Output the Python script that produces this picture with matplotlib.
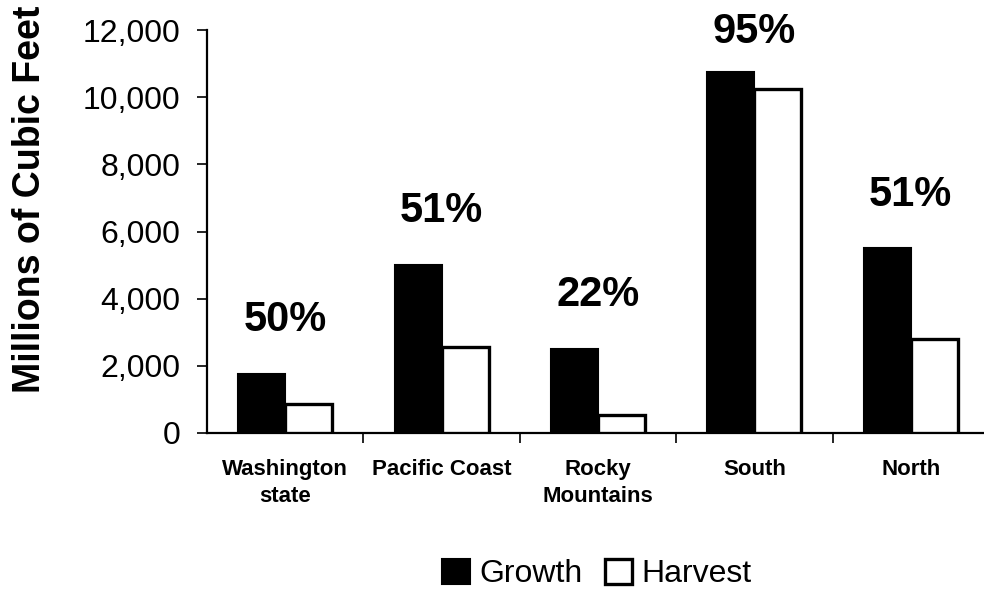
import matplotlib
matplotlib.use("Agg")
import matplotlib.pyplot as plt
from matplotlib.patches import Patch
from matplotlib.ticker import FuncFormatter

plt.rcParams['font.family'] = ['Liberation Sans', 'DejaVu Sans']

regions = ["Washington\nstate", "Pacific Coast", "Rocky\nMountains", "South", "North"]
growth = [1750, 5000, 2500, 10750, 5500]
harvest = [875, 2550, 550, 10250, 2800]
series_names = ["Growth", "Harvest"]
y_ticks = [0, 2000, 4000, 6000, 8000, 10000, 12000]

fig = plt.figure(figsize=(9.84, 5.95), dpi=100)
ax = fig.add_axes([207 / 984, 1 - 433 / 595, 782 / 984, 403 / 595])

bw = 0.3
xs = list(range(len(regions)))
ax.bar([x - bw / 2 for x in xs], growth, width=bw, color="black",
       edgecolor="black", linewidth=1.5, zorder=3)
ax.bar([x + bw / 2 for x in xs], harvest, width=bw, color="white",
       edgecolor="black", linewidth=2.4, zorder=3)

# harvest as a share of growth, above each pair
for x, g, h in zip(xs, growth, harvest):
    ly = min(g + 1600, 11950)
    ax.text(x, ly, f"{round(h / g * 100)}%", ha="center", va="center",
            fontsize=30, fontweight="bold", clip_on=False)

ax.set_xlim(-0.5, 4.5)
ax.set_ylim(0, 12000)
ax.set_yticks(y_ticks)
ax.yaxis.set_major_formatter(FuncFormatter(lambda v, p: f"{int(v):,}"))
ax.tick_params(axis="y", labelsize=23, length=7, width=1.2, direction="out", pad=12)

ax.set_xticks(xs)
ax.set_xticklabels(regions, fontsize=16, fontweight="bold", linespacing=1.35)
ax.set_xticks([x + 0.5 for x in xs[:-1]], minor=True)
ax.tick_params(axis="x", which="major", length=0, pad=19)
ax.tick_params(axis="x", which="minor", length=7, width=1.2, direction="out")

for s in ("top", "right"):
    ax.spines[s].set_visible(False)
for s in ("left", "bottom"):
    ax.spines[s].set_linewidth(1.6)

fig.text(30 / 984, 1 - 199 / 595, "Millions of Cubic Feet", rotation=90,
         ha="center", va="center", fontsize=27, fontweight="bold")

handles = [Patch(facecolor="black", edgecolor="black", linewidth=1.5),
           Patch(facecolor="white", edgecolor="black", linewidth=2.4)]
fig.legend(handles, series_names, loc="center", bbox_to_anchor=(597 / 984, 1 - 574 / 595),
           ncol=2, frameon=False, fontsize=23, handlelength=0.85, handleheight=0.85,
           handletextpad=0.3, columnspacing=0.7)

fig.savefig("out.png", dpi=100)
